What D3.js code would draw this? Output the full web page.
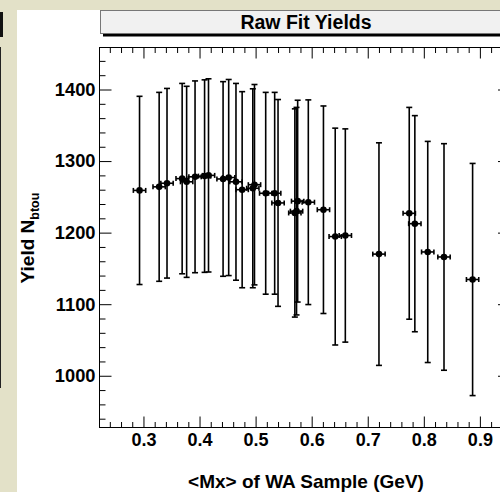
<!DOCTYPE html>
<html>
<head>
<meta charset="utf-8">
<script src="https://cdn.jsdelivr.net/npm/d3@7"></script>
<style>
html,body{margin:0;padding:0;background:#fff;}
svg{display:block;}
text{font-family:"Liberation Sans",Arial,Helvetica,sans-serif;font-weight:bold;}
</style>
</head>
<body>
<svg id="c" width="500" height="492"></svg>
<script>
// ---- data ----
const mx     = [0.293,0.328,0.342,0.369,0.377,0.392,0.409,0.416,0.442,0.452,0.465,0.476,0.495,0.498,0.518,0.534,0.540,0.570,0.573,0.575,0.594,0.621,0.642,0.660,0.720,0.774,0.784,0.807,0.836,0.887];
const yieldN = [1259,1264,1269,1275.5,1271,1278,1279,1280,1275,1277,1271,1260,1262,1267,1255,1255,1241.5,1227.5,1230,1244,1242.5,1232,1194.5,1196,1170,1227,1212.5,1173,1166,1134.5];
const yerr   = [131.5,132,132.5,133,133.5,134,134.5,135,136,137,137.5,137,139,140,141,141,144.5,145.5,145,141,143,145,151.5,149,155.5,148,151,154.5,158.3,162.2];
const xerr   = [0.011,0.011,0.011,0.011,0.011,0.011,0.011,0.011,0.011,0.011,0.011,0.011,0.011,0.011,0.011,0.011,0.011,0.011,0.011,0.011,0.011,0.011,0.011,0.011,0.011,0.011,0.011,0.011,0.011,0.011];
const xMajor = [0.3,0.4,0.5,0.6,0.7,0.8,0.9];
const yMajor = [1000,1100,1200,1300,1400];
const xMinor = [0.24,0.26,0.28,0.32,0.34,0.36,0.38,0.42,0.44,0.46,0.48,0.52,0.54,0.56,0.58,0.62,0.64,0.66,0.68,0.72,0.74,0.76,0.78,0.82,0.84,0.86,0.88,0.92,0.94];
const yMinor = [940,960,980,1020,1040,1060,1080,1120,1140,1160,1180,1220,1240,1260,1280,1320,1340,1360,1380,1420,1440];
const titleText = "Raw Fit Yields";
const xTitle = "<Mx> of WA Sample (GeV)";
const yTitleMain = "Yield N";
const yTitleSub = "btou";

// ---- layout ----
const L = 99.5, R = 510, T = 47.5, B = 427.5;
const x = d3.scaleLinear().domain([0.2216, 0.9537]).range([L, R]);
const y = d3.scaleLinear().domain([927.7, 1458.7]).range([B, T]);

const svg = d3.select("#c");
// canvas background
svg.append("rect").attr("x",0).attr("y",0).attr("width",500).attr("height",492).attr("fill","#e3e1c8");
// neighbouring pad remnants on far left
svg.append("rect").attr("x",0).attr("y",12).attr("width",3).attr("height",25).attr("fill","#111");
svg.append("line").attr("x1",0.5).attr("x2",0.5).attr("y1",47).attr("y2",388).attr("stroke","#222").attr("stroke-width",1);
// pad
svg.append("rect").attr("x",17).attr("y",10).attr("width",483).attr("height",482).attr("fill","#fff");

// title box
svg.append("rect").attr("x",103).attr("y",13).attr("width",420).attr("height",23.5).attr("fill","#000");
svg.append("rect").attr("x",100.5).attr("y",10.5).attr("width",420).attr("height",23).attr("fill","#f1f1f1").attr("stroke","#777").attr("stroke-width",1);
svg.append("text").attr("x",306).attr("y",28.5).attr("text-anchor","middle").attr("font-size",19.5).attr("fill","#000").text(titleText);

// frame
svg.append("rect").attr("x",L).attr("y",T).attr("width",R-L).attr("height",B-T).attr("fill","none").attr("stroke","#000").attr("stroke-width",1);

function styleAxis(g, fs){
  g.select(".domain").remove();
  g.selectAll(".tick line").attr("stroke","#000").attr("stroke-width",1);
  g.selectAll("text").attr("font-family",'"Liberation Sans",Arial,sans-serif').attr("font-weight","bold").attr("font-size",fs).attr("fill","#000");
}
// bottom
const gb = svg.append("g").attr("transform",`translate(0,${B})`)
  .call(d3.axisBottom(x).tickValues(xMajor).tickSizeInner(-11).tickSizeOuter(0).tickPadding(6).tickFormat(d3.format(".1f")));
styleAxis(gb, 18);
const gbm = svg.append("g").attr("transform",`translate(0,${B})`)
  .call(d3.axisBottom(x).tickValues(xMinor).tickSizeInner(-5.5).tickSizeOuter(0).tickFormat(""));
styleAxis(gbm, 18);
// top
const gt = svg.append("g").attr("transform",`translate(0,${T})`)
  .call(d3.axisTop(x).tickValues(xMajor).tickSizeInner(-11).tickSizeOuter(0).tickFormat(""));
styleAxis(gt, 18);
const gtm = svg.append("g").attr("transform",`translate(0,${T})`)
  .call(d3.axisTop(x).tickValues(xMinor).tickSizeInner(-5.5).tickSizeOuter(0).tickFormat(""));
styleAxis(gtm, 18);
// left
const gl = svg.append("g").attr("transform",`translate(${L},0)`)
  .call(d3.axisLeft(y).tickValues(yMajor).tickSizeInner(-12).tickSizeOuter(0).tickPadding(4).tickFormat(d3.format("d")));
styleAxis(gl, 18.3);
const glm = svg.append("g").attr("transform",`translate(${L},0)`)
  .call(d3.axisLeft(y).tickValues(yMinor).tickSizeInner(-6).tickSizeOuter(0).tickFormat(""));
styleAxis(glm, 18);
// right
const gr = svg.append("g").attr("transform",`translate(${R},0)`)
  .call(d3.axisRight(y).tickValues(yMajor).tickSizeInner(-12).tickSizeOuter(0).tickFormat(""));
styleAxis(gr, 18);
const grm = svg.append("g").attr("transform",`translate(${R},0)`)
  .call(d3.axisRight(y).tickValues(yMinor).tickSizeInner(-6).tickSizeOuter(0).tickFormat(""));
styleAxis(grm, 18);

// axis titles
svg.append("text").attr("x",306).attr("y",488).attr("text-anchor","middle").attr("font-size",19).attr("fill","#000").text(xTitle);
const yt = svg.append("text").attr("transform","translate(33.5,238) rotate(-90)").attr("text-anchor","middle").attr("font-size",19).attr("fill","#000");
yt.append("tspan").text(yTitleMain);
yt.append("tspan").attr("font-size",12.5).attr("dy",5).text(yTitleSub);

// data
const data = mx.map((v,i)=>({x:v, y:yieldN[i], ey:yerr[i], ex:xerr[i]}));
const gd = svg.append("g").attr("stroke","#000").attr("stroke-width",1.6).attr("fill","none");
data.forEach(d=>{
  const cx = x(d.x), cy = y(d.y);
  const y1 = y(d.y + d.ey), y2 = y(d.y - d.ey);
  const x1 = x(d.x - d.ex), x2 = x(d.x + d.ex);
  // vertical error
  gd.append("line").attr("x1",cx).attr("x2",cx).attr("y1",y1).attr("y2",y2);
  gd.append("line").attr("x1",cx-3).attr("x2",cx+3).attr("y1",y1).attr("y2",y1);
  gd.append("line").attr("x1",cx-3).attr("x2",cx+3).attr("y1",y2).attr("y2",y2);
  // horizontal error
  gd.append("line").attr("x1",x1).attr("x2",x2).attr("y1",cy).attr("y2",cy);
  gd.append("line").attr("x1",x1).attr("x2",x1).attr("y1",cy-2.5).attr("y2",cy+2.5);
  gd.append("line").attr("x1",x2).attr("x2",x2).attr("y1",cy-2.5).attr("y2",cy+2.5);
});
svg.append("g").selectAll("circle").data(data).join("circle")
  .attr("cx",d=>x(d.x)).attr("cy",d=>y(d.y)).attr("r",3.3).attr("fill","#000");
</script>
</body>
</html>
